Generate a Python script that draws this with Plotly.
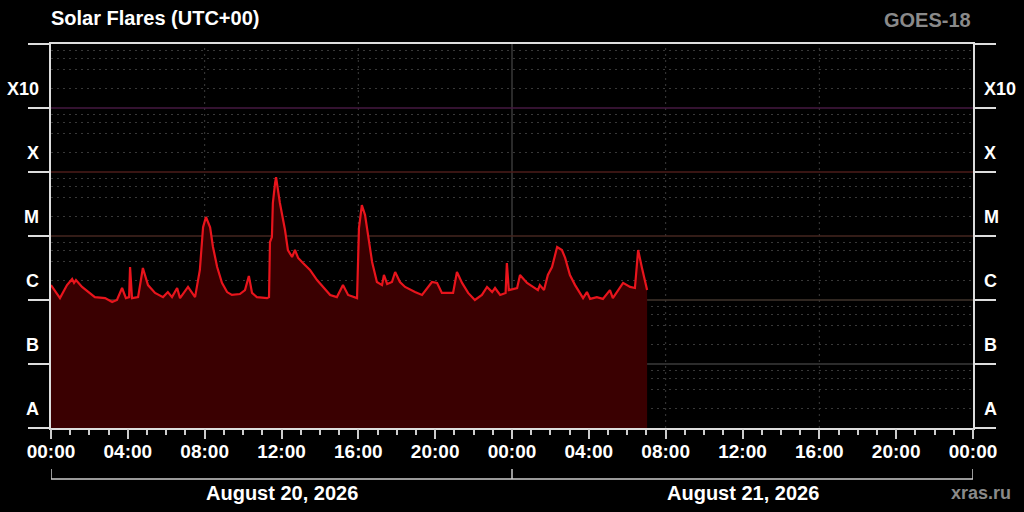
import plotly.graph_objects as go

# ---- data (GOES-18 X-ray flux, W/m^2) ----
times_aug20 = [
    "00:00", "00:28", "00:50", "01:06", "01:12", "01:18", "01:37", "01:56", "02:17", "02:49",
    "03:11", "03:26", "03:42", "03:54", "04:04", "04:07", "04:13", "04:32", "04:47", "05:03",
    "05:25", "05:50", "06:05", "06:18", "06:34", "06:43", "07:08", "07:30", "07:45", "07:55",
    "08:04", "08:17", "08:26", "08:39", "08:54", "09:10", "09:25", "09:50", "10:06", "10:18",
    "10:28", "10:43", "11:15", "11:21", "11:24", "11:30", "11:33", "11:40", "11:43", "11:55",
    "12:11", "12:20", "12:33", "12:42", "12:52", "13:07", "13:29", "13:51", "14:10", "14:32",
    "14:53", "15:12", "15:28", "15:56", "16:02", "16:11", "16:21", "16:30", "16:43", "16:58",
    "17:14", "17:20", "17:30", "17:45", "17:55", "18:10", "18:26", "18:57", "19:19", "19:50",
    "20:06", "20:21", "20:56", "21:08", "21:24", "21:43", "22:04", "22:26", "22:42", "22:58",
    "23:07", "23:23", "23:40", "23:44", "23:50",
]
flux_aug20 = [
    1.71e-6, 1.07e-6, 1.71e-6, 2.13e-6, 1.85e-6, 2.05e-6, 1.60e-6, 1.33e-6, 1.11e-6, 1.07e-6,
    9.3e-7, 1.00e-6, 1.54e-6, 1.07e-6, 1.11e-6, 3.28e-6, 1.07e-6, 1.11e-6, 3.16e-6, 1.71e-6,
    1.29e-6, 1.11e-6, 1.33e-6, 1.11e-6, 1.54e-6, 1.07e-6, 1.60e-6, 1.11e-6, 2.96e-6, 1.37e-5,
    1.98e-5, 1.37e-5, 6.73e-6, 3.28e-6, 1.85e-6, 1.33e-6, 1.20e-6, 1.24e-6, 1.43e-6, 2.37e-6,
    1.29e-6, 1.11e-6, 1.07e-6, 1.11e-6, 8.05e-6, 9.6e-6, 3.28e-5, 6.73e-5, 8.32e-5, 3.28e-5,
    1.24e-5, 6.04e-6, 4.70e-6, 6.04e-6, 4.54e-6, 3.79e-6, 2.96e-6, 2.05e-6, 1.60e-6, 1.20e-6,
    1.11e-6, 1.71e-6, 1.20e-6, 1.07e-6, 1.33e-5, 3.04e-5, 2.13e-5, 1.04e-5, 3.93e-6, 1.91e-6,
    1.71e-6, 2.46e-6, 1.78e-6, 1.91e-6, 2.74e-6, 1.91e-6, 1.60e-6, 1.33e-6, 1.20e-6, 1.91e-6,
    1.85e-6, 1.29e-6, 1.29e-6, 2.74e-6, 1.85e-6, 1.29e-6, 1.00e-6, 1.20e-6, 1.60e-6, 1.33e-6,
    1.54e-6, 1.20e-6, 1.29e-6, 3.79e-6, 1.43e-6,
]
times_aug21 = [
    "00:16", "00:25", "00:47", "01:06", "01:21", "01:27", "01:40", "01:52", "02:05", "02:21",
    "02:36", "02:46", "03:01", "03:17", "03:26", "03:42", "03:54", "04:04", "04:25", "04:44",
    "05:06", "05:15", "05:47", "06:09", "06:24", "06:34", "06:46", "07:02",
]
flux_aug21 = [
    1.54e-6, 2.46e-6, 1.85e-6, 1.60e-6, 1.43e-6, 1.71e-6, 1.43e-6, 2.46e-6, 3.28e-6, 6.73e-6,
    6.04e-6, 4.54e-6, 2.46e-6, 1.71e-6, 1.43e-6, 1.07e-6, 1.33e-6, 1.04e-6, 1.11e-6, 1.04e-6,
    1.43e-6, 1.07e-6, 1.85e-6, 1.60e-6, 1.54e-6, 6.04e-6, 3.16e-6, 1.43e-6,
]

class_labels = ["A", "B", "C", "M", "X", "X10"]
class_label_pos = [2e-8, 2e-7, 2e-6, 2e-5, 2e-4, 2e-3]
class_bounds = [1e-8, 1e-7, 1e-6, 1e-5, 1e-4, 1e-3, 1e-2]
bound_values = [1e-7, 1e-6, 1e-5, 1e-4, 1e-3]
bound_colors = ["#3b3b3b", "#40342c", "#45261f", "#4d1c1a", "#451840"]
minor_vals = [m * 10.0 ** e for e in range(-8, -2) for m in (2, 4, 6, 8)]
days = ["2026-08-20", "2026-08-21", "2026-08-22"]
day_labels = ["August 20, 2026", "August 21, 2026"]
day_mid = ["2026-08-20 12:00", "2026-08-21 12:00"]
guide_times = ["2026-08-20 08:00", "2026-08-20 16:00", "2026-08-21 08:00", "2026-08-21 16:00"]
x_start, x_end = "2026-08-20 00:00", "2026-08-22 00:00"

times = [f"{days[0]} {t}" for t in times_aug20] + [f"{days[1]} {t}" for t in times_aug21]
flux = flux_aug20 + flux_aug21

FONT = "Liberation Sans, Arial, sans-serif"

fig = go.Figure()

# class boundary lines
for v, c in zip(bound_values, bound_colors):
    fig.add_trace(go.Scatter(x=[x_start, x_end], y=[v, v], mode="lines",
                             line=dict(color=c, width=1.5), hoverinfo="skip", showlegend=False))

# baseline for fill (below axis bottom)
fig.add_trace(go.Scatter(x=[times[0], times[-1]], y=[1e-9, 1e-9], mode="lines",
                         line=dict(width=0, color="rgba(0,0,0,0)"), hoverinfo="skip", showlegend=False))
fig.add_trace(go.Scatter(x=times, y=flux, mode="lines", fill="tonexty",
                         fillcolor="#3a0001", line=dict(color="#e8141c", width=2.2),
                         showlegend=False))

# invisible traces to activate overlay axes
fig.add_trace(go.Scatter(x=[x_start], y=[1e-5], yaxis="y2", mode="markers",
                         marker=dict(opacity=0), hoverinfo="skip", showlegend=False))
fig.add_trace(go.Scatter(x=[x_start], y=[1e-5], yaxis="y3", mode="markers",
                         marker=dict(opacity=0), hoverinfo="skip", showlegend=False))
fig.add_trace(go.Scatter(x=[x_start], y=[1e-5], xaxis="x2", mode="markers",
                         marker=dict(opacity=0), hoverinfo="skip", showlegend=False))

shapes = []
for d in guide_times:
    shapes.append(dict(type="line", xref="x", yref="paper", x0=d, x1=d, y0=0, y1=1,
                       line=dict(color="#3c3c3c", width=1, dash="2px,4px"), layer="below"))
shapes.append(dict(type="line", xref="x", yref="paper", x0=days[1], x1=days[1], y0=0, y1=1,
                   line=dict(color="#555555", width=1), layer="below"))
# date bracket
shapes.append(dict(type="line", xref="x", yref="paper", x0=days[0], x1=days[2], y0=-0.133, y1=-0.133,
                   line=dict(color="#cccccc", width=1.5)))
for d in days:
    shapes.append(dict(type="line", xref="x", yref="paper", x0=d, x1=d, y0=-0.107, y1=-0.133,
                       line=dict(color="#cccccc", width=1.5)))

annotations = [
    dict(text="<b>Solar Flares (UTC+00)</b>", xref="paper", yref="paper", x=-0.002, y=1.068,
         xanchor="left", yanchor="middle", showarrow=False, font=dict(color="white", size=20, family=FONT)),
    dict(text="<b>GOES-18</b>", xref="paper", yref="paper", x=1.0, y=1.062,
         xanchor="right", yanchor="middle", showarrow=False, font=dict(color="#8a8a8a", size=20, family=FONT)),
    dict(text="<b>xras.ru</b>", xref="paper", yref="paper", x=1.043, y=-0.169,
         xanchor="right", yanchor="middle", showarrow=False, font=dict(color="#8a8a8a", size=18, family=FONT)),
]
for lab, mid in zip(day_labels, day_mid):
    annotations.append(dict(text=f"<b>{lab}</b>", xref="x", yref="paper", x=mid, y=-0.169,
                            xanchor="center", yanchor="middle", showarrow=False,
                            font=dict(color="white", size=20, family=FONT)))

yrange = [-8, -2]
fig.update_layout(
    width=1024, height=512,
    margin=dict(l=51, r=51, t=44, b=84, autoexpand=False),
    paper_bgcolor="black", plot_bgcolor="black",
    font=dict(family=FONT, color="white"),
    shapes=shapes, annotations=annotations,
    xaxis=dict(type="date", range=[x_start, x_end], tick0=x_start, dtick=4 * 3600000,
               tickformat="<b>%H:%M</b>", showgrid=False, zeroline=False, automargin=False,
               showline=True, linecolor="#dddddd", linewidth=1.5, mirror=True,
               ticks="outside", ticklen=5, tickwidth=1.5, tickcolor="#cccccc",
               tickfont=dict(size=19, color="white", family=FONT),
               minor=dict(dtick=3600000, ticks="outside", ticklen=5, tickwidth=1.5, tickcolor="#cccccc",
                          showgrid=False)),
    xaxis2=dict(type="date", range=[x_start, x_end], overlaying="x", anchor="y", side="bottom",
                tick0=x_start, dtick=4 * 3600000, showticklabels=False, showgrid=False, zeroline=False,
                showline=False, automargin=False, ticks="outside", ticklen=10, tickwidth=1.5,
                tickcolor="#cccccc"),
    yaxis=dict(type="log", range=yrange, tickvals=class_bounds, showticklabels=False, automargin=False,
               ticks="outside", ticklen=21, tickwidth=1.5, tickcolor="#dddddd",
               showline=True, linecolor="#dddddd", linewidth=1.5, mirror="ticks",
               showgrid=False, zeroline=False,
               minor=dict(tickvals=minor_vals, showgrid=True, gridcolor="#383838",
                          griddash="2px,4px", gridwidth=1, ticks="")),
    yaxis2=dict(type="log", range=yrange, overlaying="y", side="left", tickvals=class_label_pos,
                ticktext=[f"<b>{t}</b>" for t in class_labels], ticks="", showgrid=False, showline=False,
                zeroline=False, automargin=False, ticklabelstandoff=11,
                tickfont=dict(size=18, color="white", family=FONT)),
    yaxis3=dict(type="log", range=yrange, overlaying="y", side="right", tickvals=class_label_pos,
                ticktext=[f"<b>{t}</b>" for t in class_labels], ticks="", showgrid=False, showline=False,
                zeroline=False, automargin=False, ticklabelstandoff=10,
                tickfont=dict(size=18, color="white", family=FONT)),
)

fig.write_html("out.html", config={"displayModeBar": False},
               post_script="document.body.style.margin='0';")
